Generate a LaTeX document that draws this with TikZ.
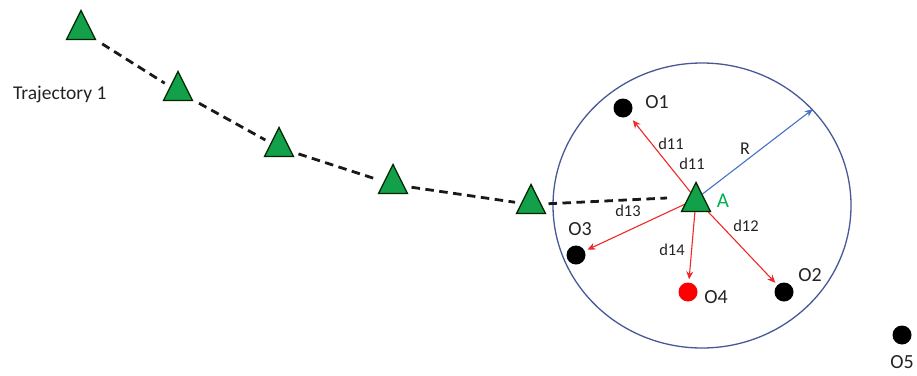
\documentclass[tikz,border=0pt]{standalone}
\usepackage{fontspec}
\setmainfont{Carlito}
\usetikzlibrary{shapes.geometric,arrows.meta}
\definecolor{trigreen}{RGB}{18,160,74}
\definecolor{agreen}{RGB}{0,176,80}
\definecolor{ringblue}{RGB}{72,88,150}
\definecolor{rblue}{RGB}{68,114,196}
\definecolor{dred}{RGB}{240,40,40}
\definecolor{txt}{RGB}{35,35,35}
\begin{document}
\begin{tikzpicture}[x=1pt,y=-1pt,
  tri/.style={isosceles triangle, isosceles triangle apex angle=53,
    shape border rotate=90, minimum width=29pt, minimum height=29pt,
    inner sep=0pt, fill=trigreen, draw=black!85!green, line width=1.3pt, anchor=apex},
  dot/.style={circle, fill=black, minimum size=19pt, inner sep=0pt},
  olbl/.style={font=\fontsize{20}{22}\selectfont, text=txt, inner sep=0pt},
  dlbl/.style={font=\fontsize{16.5}{18}\selectfont, text=txt, inner sep=0pt},
  traj/.style={draw=black!90, line width=2.8pt, dash pattern=on 8.5pt off 5.5pt,
    shorten <=7pt, shorten >=6pt},
  dist/.style={draw=dred, line width=1.1pt, -{Stealth[length=8pt,width=7pt]}},
  radius arrow/.style={draw=rblue, line width=1.1pt, -{Stealth[length=8pt,width=7pt]}},
]
\useasboundingbox (0,0) rectangle (917,375);
% ring
\node[ellipse, draw=ringblue, line width=1.3pt, minimum width=298pt,
  minimum height=285pt, inner sep=0pt] (ring) at (702,205.5) {};
% objects
\node[dot] (O1) at (623,108) {};
\node[dot] (O3) at (576,255) {};
\node[dot, fill=red] (O4) at (688,292) {};
\node[dot] (O2) at (784,292) {};
\node[dot] (O5) at (902,335) {};
% trajectory triangles
\node[tri] (T1) at (81,9) {};
\node[tri] (T2) at (178,70) {};
\node[tri] (T3) at (279,126) {};
\node[tri] (T4) at (393,163) {};
\node[tri] (T5) at (531,183) {};
% connectors
\draw[traj] (T1) -- (T2);
\draw[traj] (T2) -- (T3);
\draw[traj] (T3) -- (T4);
\draw[traj] (T4) -- (T5);
\coordinate (Aleft) at (667,198);
\draw[traj, shorten >=0pt] (T5) -- (Aleft);
% distance arrows (under A)
\coordinate (Ac) at (696,199);
\draw[dist, shorten >=6pt] (Ac) -- (O1);
\draw[dist, shorten >=3pt] (Ac) -- (O3);
\draw[dist, shorten >=3pt] (Ac) -- (O4);
\draw[dist, shorten >=3pt] (Ac) -- (O2);
\draw[radius arrow] (Ac) -- (ring.41);
% agent
\node[tri] (A) at (696,181) {};
% labels
\node[anchor=base west, font=\fontsize{19.5}{21}\selectfont, text=txt, inner sep=0pt]
  (tl) at (13,99) {Trajectory 1};
\node[olbl] (lO1) at (657,102) {O1};
\node[olbl] (lO3) at (580,229) {O3};
\node[olbl] (lO4) at (716,297) {O4};
\node[olbl] (lO2) at (810,275) {O2};
\node[olbl] (lO5) at (902,362) {O5};
\node[dlbl] (d11a) at (671,144) {d11};
\node[dlbl] (d11b) at (692,164) {d11};
\node[dlbl] (d13) at (628,211) {d13};
\node[dlbl] (d12) at (746,226) {d12};
\node[dlbl] (d14) at (672,250) {d14};
\node[dlbl, font=\fontsize{18}{20}\selectfont] (lR) at (745,149) {R};
\node[olbl, text=agreen, font=\fontsize{21}{23}\selectfont] (lA) at (723,201) {A};
\end{tikzpicture}
\end{document}
